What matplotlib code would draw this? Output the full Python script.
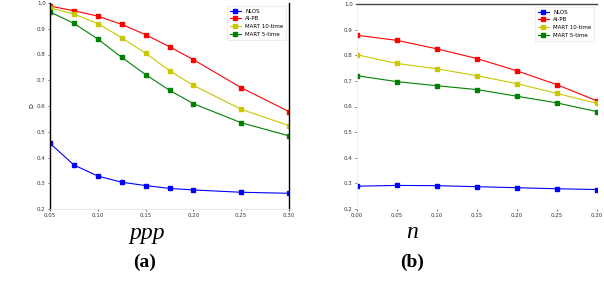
import matplotlib
matplotlib.use("Agg")
import matplotlib.pyplot as plt

labels = ["NLOS", "AI-PB", "MART 10-time", "MART 5-time"]
colors = ["#0000ff", "#ff0000", "#c8c800", "#008000"]

x_a = [0.05, 0.075, 0.10, 0.125, 0.15, 0.175, 0.20, 0.25, 0.30]
a_nlos = [0.455, 0.371, 0.328, 0.304, 0.291, 0.280, 0.274, 0.265, 0.261]
a_aipb = [0.988, 0.970, 0.949, 0.917, 0.877, 0.830, 0.780, 0.671, 0.578]
a_m10 = [0.981, 0.957, 0.920, 0.865, 0.805, 0.737, 0.680, 0.587, 0.524]
a_m5 = [0.965, 0.921, 0.860, 0.789, 0.722, 0.661, 0.609, 0.535, 0.484]
xticks_a = [0.05, 0.10, 0.15, 0.20, 0.25, 0.30]

x_b = [0.00, 0.05, 0.10, 0.15, 0.20, 0.25, 0.30]
b_nlos = [0.289, 0.292, 0.291, 0.287, 0.283, 0.279, 0.276]
b_aipb = [0.878, 0.858, 0.825, 0.787, 0.739, 0.685, 0.622]
b_m10 = [0.802, 0.768, 0.747, 0.720, 0.689, 0.651, 0.612]
b_m5 = [0.720, 0.697, 0.681, 0.666, 0.640, 0.614, 0.580]
xticks_b = [0.00, 0.05, 0.10, 0.15, 0.20, 0.25, 0.30]

yticks = [0.2, 0.3, 0.4, 0.5, 0.6, 0.7, 0.8, 0.9, 1.0]

fig = plt.figure(figsize=(6.04, 3.08), dpi=100)
axa = fig.add_axes([50/604, 1-209/308, 239/604, 206/308])
axb = fig.add_axes([357/604, 1-209/308, 240/604, 205/308])

for ax, xs, series, xt in [(axa, x_a, [a_nlos, a_aipb, a_m10, a_m5], xticks_a),
                           (axb, x_b, [b_nlos, b_aipb, b_m10, b_m5], xticks_b)]:
    for ys, lab, c in zip(series, labels, colors):
        ax.plot(xs, ys, color=c, marker="s", markersize=3.3, linewidth=0.8, label=lab)
    ax.set_xlim(xt[0], xt[-1])
    ax.set_ylim(0.2, 1.0)
    ax.set_xticks(xt)
    ax.set_xticklabels(["%.2f" % v for v in xt])
    ax.set_yticks(yticks)
    ax.set_yticklabels(["%.1f" % v for v in yticks])
    ax.tick_params(labelsize=4, length=1.5, width=0.5, pad=1.5, colors="#333333")
    leg = ax.legend(loc="upper right", fontsize=4, frameon=True, fancybox=False,
                    borderpad=0.5, handlelength=2.0, labelspacing=0.5)
    leg.get_frame().set_edgecolor("#e0e0e0")
    leg.get_frame().set_linewidth(0.5)

# spines for (a)
axa.spines["top"].set_visible(False)
axa.spines["left"].set_color("black")
axa.spines["left"].set_linewidth(1.0)
axa.spines["right"].set_color("black")
axa.spines["right"].set_linewidth(1.0)
axa.spines["bottom"].set_color("#e6e6e6")
axa.spines["bottom"].set_linewidth(0.6)
axa.set_ylabel("D", fontsize=4.5, labelpad=2)

# spines for (b)
axb.spines["top"].set_color("#444444")
axb.spines["top"].set_linewidth(1.0)
axb.spines["left"].set_color("#ededed")
axb.spines["left"].set_linewidth(0.6)
axb.spines["right"].set_visible(False)
axb.spines["bottom"].set_visible(False)

serif = ["Liberation Serif", "DejaVu Serif"]
fig.text(147/604, 1-233/308, "ppp", fontsize=17, style="italic", family=serif,
         ha="center", va="center")
fig.text(145/604, 1-262/308, "(a)", fontsize=14, weight="bold", family=serif,
         ha="center", va="center")
fig.text(412/604, 1-233/308, "n", fontsize=17, style="italic", family=serif,
         ha="center", va="center")
fig.text(412/604, 1-262/308, "(b)", fontsize=14, weight="bold", family=serif,
         ha="center", va="center")

fig.savefig("out.png", dpi=100)
